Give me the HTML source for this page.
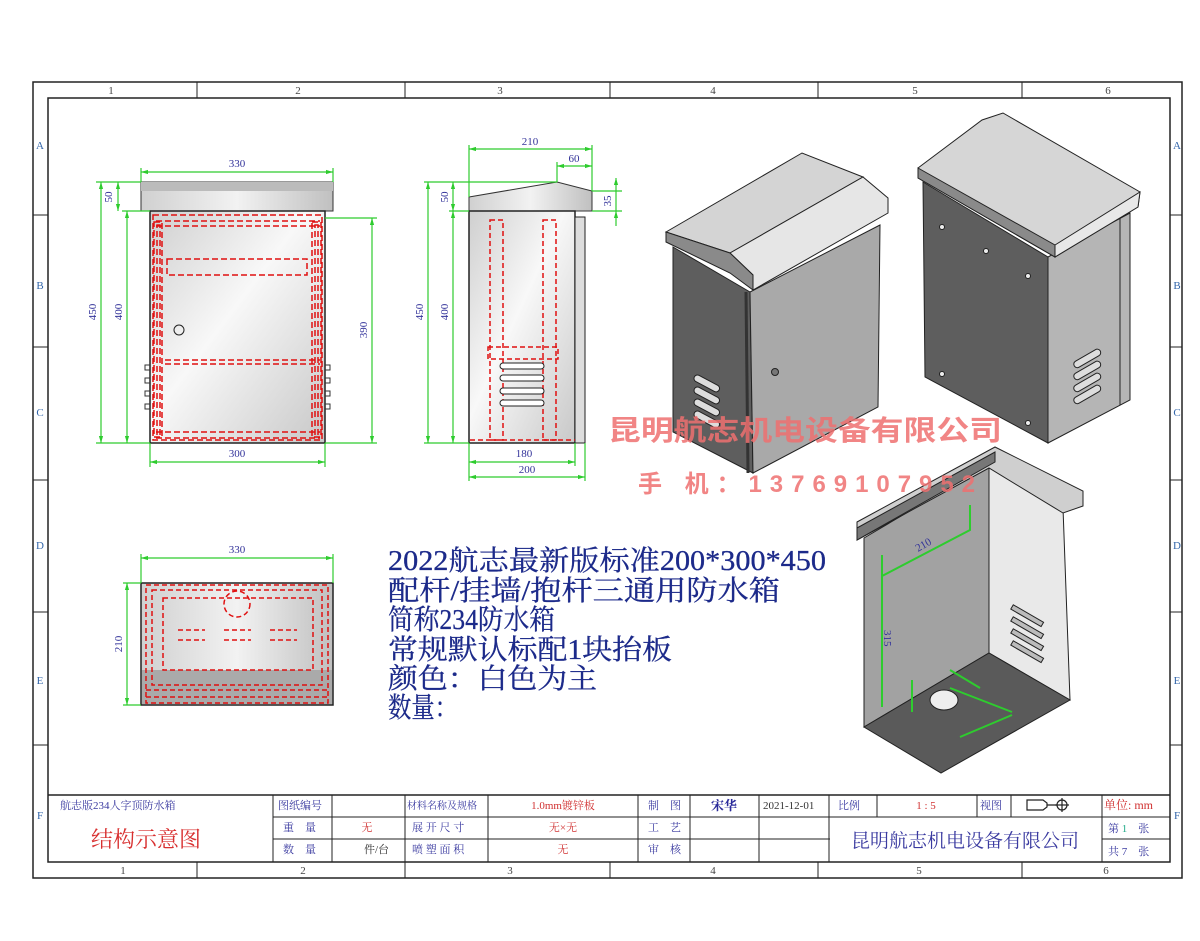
<!DOCTYPE html>
<html><head><meta charset="utf-8"><style>
html,body{margin:0;padding:0;background:#fff}
svg{display:block}
.s{font-family:"Liberation Serif","Noto Serif CJK SC",serif}
.d{font-family:"Liberation Serif",serif;font-size:11px;fill:#33339a}
</style></head><body>
<svg width="1200" height="941" viewBox="0 0 1200 941" xmlns="http://www.w3.org/2000/svg">
<defs>
<linearGradient id="g1" x1="0" y1="0" x2="1" y2="1"><stop offset="0" stop-color="#cfcfcf"/><stop offset="0.45" stop-color="#f8f8f8"/><stop offset="1" stop-color="#c8c8c8"/></linearGradient>
<linearGradient id="g2" x1="0" y1="0" x2="1" y2="0"><stop offset="0" stop-color="#d0d0d0"/><stop offset="0.5" stop-color="#f2f2f2"/><stop offset="1" stop-color="#c0c0c0"/></linearGradient>
<marker id="a" viewBox="0 0 10 10" refX="10" refY="5" markerWidth="6" markerHeight="6" orient="auto-start-reverse"><path d="M0,2 L10,5 L0,8 z" fill="#2ecc2e"/></marker>
</defs>
<rect x="33" y="82" width="1149" height="796" fill="none" stroke="#222" stroke-width="1.5"/>
<rect x="48" y="98" width="1122" height="764" fill="none" stroke="#222" stroke-width="1.5"/>
<g stroke="#222" stroke-width="1">
<line x1="197" y1="82" x2="197" y2="98"/><line x1="405" y1="82" x2="405" y2="98"/><line x1="610" y1="82" x2="610" y2="98"/><line x1="818" y1="82" x2="818" y2="98"/><line x1="1022" y1="82" x2="1022" y2="98"/>
<line x1="197" y1="862" x2="197" y2="878"/><line x1="405" y1="862" x2="405" y2="878"/><line x1="610" y1="862" x2="610" y2="878"/><line x1="818" y1="862" x2="818" y2="878"/><line x1="1022" y1="862" x2="1022" y2="878"/>
<line x1="33" y1="215" x2="48" y2="215"/><line x1="33" y1="347" x2="48" y2="347"/><line x1="33" y1="480" x2="48" y2="480"/><line x1="33" y1="612" x2="48" y2="612"/><line x1="33" y1="745" x2="48" y2="745"/>
<line x1="1170" y1="215" x2="1182" y2="215"/><line x1="1170" y1="347" x2="1182" y2="347"/><line x1="1170" y1="480" x2="1182" y2="480"/><line x1="1170" y1="612" x2="1182" y2="612"/><line x1="1170" y1="745" x2="1182" y2="745"/>
</g>
<g class="s" font-size="11" fill="#444" text-anchor="middle">
<text x="111" y="94">1</text><text x="298" y="94">2</text><text x="500" y="94">3</text><text x="713" y="94">4</text><text x="915" y="94">5</text><text x="1108" y="94">6</text>
<text x="123" y="874">1</text><text x="303" y="874">2</text><text x="510" y="874">3</text><text x="713" y="874">4</text><text x="919" y="874">5</text><text x="1106" y="874">6</text>
<g fill="#36a">
<text x="40" y="149">A</text><text x="40" y="289">B</text><text x="40" y="416">C</text><text x="40" y="549">D</text><text x="40" y="684">E</text><text x="40" y="819">F</text>
<text x="1177" y="149">A</text><text x="1177" y="289">B</text><text x="1177" y="416">C</text><text x="1177" y="549">D</text><text x="1177" y="684">E</text><text x="1177" y="819">F</text>
</g></g>

<!-- FRONT VIEW -->
<rect x="141" y="182" width="192" height="29" fill="url(#g2)" stroke="#333"/>
<rect x="141" y="182" width="192" height="9" fill="#bbb"/>
<rect x="150" y="211" width="175" height="232" fill="url(#g1)" stroke="#222" stroke-width="1.5"/>
<g fill="none" stroke="#e01010" stroke-width="1.5" stroke-dasharray="6,3">
<rect x="153" y="215" width="169" height="225"/>
<rect x="154" y="222" width="8" height="215"/><rect x="312" y="222" width="9" height="215"/>
<rect x="157" y="225" width="3" height="210"/><rect x="315" y="225" width="3" height="210"/>
<line x1="156" y1="221" x2="320" y2="221"/><line x1="156" y1="226" x2="320" y2="226"/>
<rect x="167" y="259" width="140" height="16"/>
<line x1="165" y1="360" x2="320" y2="360"/><line x1="165" y1="364" x2="320" y2="364"/>
<line x1="156" y1="432" x2="320" y2="432"/><line x1="156" y1="438" x2="320" y2="438"/>
</g>
<circle cx="179" cy="330" r="5" fill="none" stroke="#222"/>
<g stroke="#333" fill="none"><path d="M150,365 h-5 v5 h5 M150,378 h-5 v5 h5 M150,391 h-5 v5 h5 M150,404 h-5 v5 h5 M325,365 h5 v5 h-5 M325,378 h5 v5 h-5 M325,391 h5 v5 h-5 M325,404 h5 v5 h-5"/></g>
<g stroke="#2ecc2e" stroke-width="1.2" fill="none">
<line x1="141" y1="172" x2="333" y2="172" marker-start="url(#a)" marker-end="url(#a)"/>
<line x1="141" y1="168" x2="141" y2="182"/><line x1="333" y1="168" x2="333" y2="182"/>
<line x1="101" y1="182" x2="101" y2="443" marker-start="url(#a)" marker-end="url(#a)"/>
<line x1="118" y1="182" x2="118" y2="211" marker-start="url(#a)" marker-end="url(#a)"/>
<line x1="127" y1="211" x2="127" y2="443" marker-start="url(#a)" marker-end="url(#a)"/>
<line x1="96" y1="182" x2="141" y2="182"/><line x1="96" y1="443" x2="150" y2="443"/><line x1="122" y1="211" x2="150" y2="211"/>
<line x1="372" y1="218" x2="372" y2="443" marker-start="url(#a)" marker-end="url(#a)"/>
<line x1="325" y1="218" x2="377" y2="218"/><line x1="325" y1="443" x2="377" y2="443"/>
<line x1="150" y1="462" x2="325" y2="462" marker-start="url(#a)" marker-end="url(#a)"/>
<line x1="150" y1="443" x2="150" y2="467"/><line x1="325" y1="443" x2="325" y2="467"/>
</g>
<text class="d" x="237" y="167" text-anchor="middle">330</text>
<text class="d" x="237" y="457" text-anchor="middle">300</text>
<text class="d" transform="translate(112,197) rotate(-90)" text-anchor="middle">50</text>
<text class="d" transform="translate(96,312) rotate(-90)" text-anchor="middle">450</text>
<text class="d" transform="translate(122,312) rotate(-90)" text-anchor="middle">400</text>
<text class="d" transform="translate(367,330) rotate(-90)" text-anchor="middle">390</text>

<!-- SIDE VIEW -->
<polygon points="469,197 557,182 592,191 592,211 469,211" fill="url(#g2)" stroke="#333"/>
<rect x="469" y="211" width="106" height="232" fill="url(#g1)" stroke="#222" stroke-width="1.5"/>
<rect x="575" y="217" width="10" height="226" fill="#ddd" stroke="#222"/>
<g fill="none" stroke="#e01010" stroke-width="1.5" stroke-dasharray="5,3">
<rect x="490" y="220" width="13" height="220"/><rect x="543" y="220" width="13" height="220"/>
<rect x="488" y="347" width="70" height="12"/>
<line x1="470" y1="440" x2="575" y2="440"/>
</g>
<g fill="#fff" stroke="#222"><rect x="500" y="363" width="44" height="6" rx="3"/><rect x="500" y="375" width="44" height="6" rx="3"/><rect x="500" y="388" width="44" height="6" rx="3"/><rect x="500" y="400" width="44" height="6" rx="3"/></g>
<g stroke="#2ecc2e" stroke-width="1.2" fill="none">
<line x1="469" y1="149" x2="592" y2="149" marker-start="url(#a)" marker-end="url(#a)"/>
<line x1="469" y1="145" x2="469" y2="197"/><line x1="592" y1="145" x2="592" y2="191"/>
<line x1="557" y1="166" x2="592" y2="166" marker-start="url(#a)" marker-end="url(#a)"/><line x1="557" y1="162" x2="557" y2="182"/>
<line x1="616" y1="178" x2="616" y2="191" marker-start="url(#a)"/><line x1="616" y1="211" x2="616" y2="226" marker-start="url(#a)"/><line x1="616" y1="191" x2="616" y2="211"/>
<line x1="592" y1="191" x2="622" y2="191"/><line x1="592" y1="211" x2="622" y2="211"/>
<line x1="428" y1="182" x2="428" y2="443" marker-start="url(#a)" marker-end="url(#a)"/>
<line x1="453" y1="182" x2="453" y2="211" marker-start="url(#a)" marker-end="url(#a)"/>
<line x1="453" y1="211" x2="453" y2="443" marker-start="url(#a)" marker-end="url(#a)"/>
<line x1="424" y1="182" x2="557" y2="182"/><line x1="424" y1="443" x2="469" y2="443"/><line x1="449" y1="211" x2="469" y2="211"/>
<line x1="469" y1="462" x2="575" y2="462" marker-start="url(#a)" marker-end="url(#a)"/>
<line x1="469" y1="477" x2="585" y2="477" marker-start="url(#a)" marker-end="url(#a)"/>
<line x1="469" y1="443" x2="469" y2="481"/><line x1="575" y1="443" x2="575" y2="466"/><line x1="585" y1="443" x2="585" y2="481"/>
</g>
<text class="d" x="530" y="145" text-anchor="middle">210</text>
<text class="d" x="574" y="162" text-anchor="middle">60</text>
<text class="d" x="524" y="457" text-anchor="middle">180</text>
<text class="d" x="527" y="473" text-anchor="middle">200</text>
<text class="d" transform="translate(611,201) rotate(-90)" text-anchor="middle">35</text>
<text class="d" transform="translate(448,197) rotate(-90)" text-anchor="middle">50</text>
<text class="d" transform="translate(423,312) rotate(-90)" text-anchor="middle">450</text>
<text class="d" transform="translate(448,312) rotate(-90)" text-anchor="middle">400</text>

<!-- BOTTOM VIEW -->
<rect x="141" y="583" width="192" height="122" fill="url(#g2)" stroke="#222" stroke-width="1.5"/>
<rect x="142" y="670" width="190" height="34" fill="#aaa"/>
<g fill="none" stroke="#e01010" stroke-width="1.5" stroke-dasharray="5,3">
<rect x="146" y="585" width="182" height="118"/>
<rect x="163" y="598" width="150" height="72"/>
<rect x="152" y="590" width="170" height="95"/>
<circle cx="237" cy="604" r="13"/>
<line x1="178" y1="630" x2="205" y2="630"/><line x1="178" y1="640" x2="205" y2="640"/>
<line x1="224" y1="630" x2="251" y2="630"/><line x1="224" y1="640" x2="251" y2="640"/>
<line x1="270" y1="630" x2="297" y2="630"/><line x1="270" y1="640" x2="297" y2="640"/>
<line x1="146" y1="690" x2="328" y2="690"/><line x1="146" y1="697" x2="328" y2="697"/>
</g>
<g stroke="#2ecc2e" stroke-width="1.2" fill="none">
<line x1="141" y1="558" x2="333" y2="558" marker-start="url(#a)" marker-end="url(#a)"/>
<line x1="141" y1="554" x2="141" y2="583"/><line x1="333" y1="554" x2="333" y2="583"/>
<line x1="127" y1="583" x2="127" y2="705" marker-start="url(#a)" marker-end="url(#a)"/>
<line x1="123" y1="583" x2="141" y2="583"/><line x1="123" y1="705" x2="141" y2="705"/>
</g>
<text class="d" x="237" y="553" text-anchor="middle">330</text>
<text class="d" transform="translate(122,644) rotate(-90)" text-anchor="middle">210</text>

<!-- 3D box 1 -->
<g stroke="#222" stroke-width="1">
<polygon points="673,247 750,292 753,473 673,432" fill="#5e5e5e"/>
<polygon points="750,292 880,225 878,407 753,473" fill="#a9a9a9"/>
<line x1="746" y1="292" x2="748" y2="473" stroke="#333" stroke-width="3"/>
<polygon points="666,232 802,153 863,177 730,253" fill="#d4d4d4"/>
<polygon points="730,253 863,177 888,198 888,213 753,290 753,275" fill="#e6e6e6"/>
<polygon points="666,232 730,253 753,275 753,290 730,273 666,242" fill="#8a8a8a"/>
<circle cx="775" cy="372" r="3.5" fill="#777"/>
<g fill="#ddd"><rect x="693" y="380" width="28" height="7" rx="3.5" transform="rotate(28 707 383)"/><rect x="693" y="392" width="28" height="7" rx="3.5" transform="rotate(28 707 395)"/><rect x="693" y="404" width="28" height="7" rx="3.5" transform="rotate(28 707 407)"/><rect x="693" y="416" width="28" height="7" rx="3.5" transform="rotate(28 707 419)"/></g>
</g>
<!-- 3D box 2 -->
<g stroke="#222" stroke-width="1">
<polygon points="923,182 1048,257 1048,443 925,377" fill="#5e5e5e"/>
<polygon points="1048,257 1130,213 1130,400 1048,443" fill="#b5b5b5"/>
<line x1="1120" y1="218" x2="1120" y2="405"/>
<polygon points="918,168 982,120 1003,113 1140,192 1138,207 1055,257 918,178" fill="#d6d6d6"/>
<polygon points="1055,245 1140,192 1138,207 1055,257" fill="#e8e8e8"/>
<polygon points="918,168 1055,245 1055,257 918,178" fill="#8a8a8a"/>
<g fill="#eee"><circle cx="942" cy="227" r="2.5"/><circle cx="986" cy="251" r="2.5"/><circle cx="1028" cy="276" r="2.5"/><circle cx="942" cy="374" r="2.5"/><circle cx="1028" cy="423" r="2.5"/></g>
<g fill="#ddd"><rect x="1072" y="355" width="30" height="7" rx="3.5" transform="rotate(-30 1087 358)"/><rect x="1072" y="367" width="30" height="7" rx="3.5" transform="rotate(-30 1087 370)"/><rect x="1072" y="379" width="30" height="7" rx="3.5" transform="rotate(-30 1087 382)"/><rect x="1072" y="391" width="30" height="7" rx="3.5" transform="rotate(-30 1087 394)"/></g>
</g>
<!-- 3D box 3 -->
<g stroke="#222" stroke-width="1">
<polygon points="864,538 989,464 989,653 864,727" fill="#a2a2a2"/>
<polygon points="989,464 1063,508 1070,700 989,653" fill="#e9e9e9"/>
<polygon points="864,727 989,653 1070,700 941,773" fill="#5a5a5a"/>
<polygon points="857,522 995,447 1083,491 1083,506 1063,513 989,468 857,540" fill="#cfcfcf"/>
<polygon points="857,528 995,452 995,462 857,540" fill="#777"/>
<ellipse cx="944" cy="700" rx="14" ry="10" fill="#eee"/>
<g fill="#bbb"><rect x="1010" y="613" width="35" height="5" transform="rotate(30 1027 615)"/><rect x="1010" y="625" width="35" height="5" transform="rotate(30 1027 627)"/><rect x="1010" y="637" width="35" height="5" transform="rotate(30 1027 639)"/><rect x="1010" y="649" width="35" height="5" transform="rotate(30 1027 651)"/></g>
</g>
<g stroke="#2ecc2e" stroke-width="2" fill="none">
<polyline points="970,505 970,530 882,576"/><line x1="882" y1="555" x2="882" y2="707"/>
<line x1="912" y1="680" x2="912" y2="712"/><line x1="950" y1="670" x2="980" y2="688"/><line x1="950" y1="688" x2="1012" y2="712"/><line x1="960" y1="737" x2="1012" y2="715"/>
</g>
<g class="d" font-size="9"><text x="918" y="552" transform="rotate(-30 918 552)">210</text><text transform="translate(884,630) rotate(90)">315</text></g>

<!-- main text -->
<g font-size="28" fill="#1c2a8a" font-family="Liberation Serif,Noto Serif CJK SC,serif" stroke="#1c2a8a" stroke-width="0.3">
<text x="388" y="570" textLength="438" lengthAdjust="spacingAndGlyphs">2022航志最新版标准200*300*450</text>
<text x="388" y="600" textLength="392" lengthAdjust="spacingAndGlyphs">配杆/挂墙/抱杆三通用防水箱</text>
<text x="388" y="629" textLength="167" lengthAdjust="spacingAndGlyphs">简称234防水箱</text>
<text x="388" y="659" textLength="284" lengthAdjust="spacingAndGlyphs">常规默认标配1块抬板</text>
<text x="388" y="688" textLength="209" lengthAdjust="spacingAndGlyphs">颜色：白色为主</text>
<text x="388" y="717" textLength="70" lengthAdjust="spacingAndGlyphs">数量：</text>
</g>
<g font-family="Liberation Sans,Noto Sans CJK SC,sans-serif" font-weight="bold" fill="#ee7070" fill-opacity="0.85">
<text x="608" y="440" font-size="28" textLength="394" lengthAdjust="spacingAndGlyphs">昆明航志机电设备有限公司</text>
<text x="638" y="492" font-size="24" textLength="337" lengthAdjust="spacing">手  机：13769107952</text>
</g>

<!-- title block -->
<g stroke="#222" stroke-width="1" fill="none">
<line x1="48" y1="795" x2="1170" y2="795" stroke-width="1.5"/>
<line x1="273" y1="817" x2="830" y2="817"/><line x1="273" y1="839" x2="830" y2="839"/>
<line x1="1102" y1="817" x2="1170" y2="817"/><line x1="1102" y1="839" x2="1170" y2="839"/>
<line x1="273" y1="795" x2="273" y2="862"/><line x1="332" y1="795" x2="332" y2="862"/><line x1="405" y1="795" x2="405" y2="862"/><line x1="488" y1="795" x2="488" y2="862"/><line x1="638" y1="795" x2="638" y2="862"/><line x1="690" y1="795" x2="690" y2="862"/><line x1="759" y1="795" x2="759" y2="862"/><line x1="829" y1="795" x2="829" y2="862"/>
<line x1="877" y1="795" x2="877" y2="817"/><line x1="977" y1="795" x2="977" y2="817"/><line x1="1011" y1="795" x2="1011" y2="817"/><line x1="1102" y1="795" x2="1102" y2="862"/>
<line x1="829" y1="817" x2="1102" y2="817"/>
</g>
<g class="s" font-size="11" fill="#3a3aa0">
<text x="60" y="809">航志版234人字顶防水箱</text>
<text x="278" y="809">图纸编号</text>
<text x="283" y="831">重　量</text>
<text x="283" y="853">数　量</text>
<text x="407" y="809" font-size="10">材料名称及规格</text>
<text x="412" y="831">展 开 尺 寸</text>
<text x="412" y="853">喷 塑 面 积</text>
<text x="648" y="809">制　图</text>
<text x="648" y="831">工　艺</text>
<text x="648" y="853">审　核</text>
<text x="763" y="809" fill="#333">2021-12-01</text>
<text x="838" y="809">比例</text>
<text x="980" y="809">视图</text>
<text x="1108" y="832">第 <tspan fill="#2a8">1</tspan>　张</text>
<text x="1108" y="855">共 7　张</text>
<text x="364" y="853" fill="#333">件/台</text>
</g>
<g class="s" font-size="11" fill="#d03030" text-anchor="middle">
<text x="563" y="809">1.0mm镀锌板</text><text x="367" y="831">无</text><text x="563" y="831">无×无</text><text x="563" y="853">无</text><text x="926" y="809">1 : 5</text>
</g>
<text x="1104" y="809" class="s" font-size="12" fill="#d03030">单位: mm</text>
<text x="724" y="810" class="s" font-size="13" font-weight="bold" fill="#2a2a9a" text-anchor="middle">宋华</text>
<text x="91" y="847" class="s" font-size="22" fill="#d83030">结构示意图</text>
<text x="965" y="847" class="s" font-size="19" fill="#3a3aa0" text-anchor="middle">昆明航志机电设备有限公司</text>
<g stroke="#222" fill="none" stroke-width="1.2"><path d="M1027,800 h16 l4,3 v4 l-4,3 h-16 z M1047,805 h10"/><circle cx="1062" cy="805" r="5"/><line x1="1055" y1="805" x2="1069" y2="805"/><line x1="1062" y1="798" x2="1062" y2="812"/></g>
</svg>
</body></html>
